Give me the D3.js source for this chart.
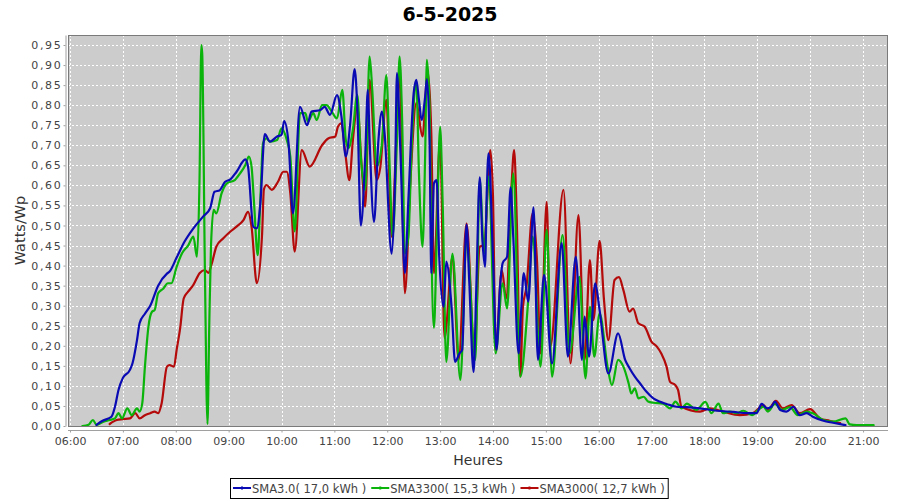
<!DOCTYPE html>
<html><head><meta charset="utf-8">
<script src="https://cdn.jsdelivr.net/npm/d3@7"></script>
<style>body{margin:0;background:#fff} svg{display:block;font-family:"DejaVu Sans",sans-serif}</style>
</head><body><svg id="c" width="900" height="500"></svg>
<script>
const chartTitle = "6-5-2025";
const yLabel = "Watts/Wp";
const xLabel = "Heures";
const seriesNames = ["SMA3.0( 17,0 kWh )", "SMA3300( 15,3 kWh )", "SMA3000( 12,7 kWh )"];
const seriesColors = ["#0a0ab4", "#0ab40a", "#b40a0a"];
const xTickLabels = ["06:00","07:00","08:00","09:00","10:00","11:00","12:00","13:00","14:00","15:00","16:00","17:00","18:00","19:00","20:00","21:00"];
const yTicks = [0,0.05,0.10,0.15,0.20,0.25,0.30,0.35,0.40,0.45,0.50,0.55,0.60,0.65,0.70,0.75,0.80,0.85,0.90,0.95];

const sma30 = [["06:30",0.003],["06:37",0.013],["06:47",0.023],["06:51",0.048],["06:55",0.09],["07:00",0.12],["07:08",0.14],["07:11",0.157],["07:16",0.214],["07:19",0.257],["07:25",0.28],["07:31",0.30],["07:40",0.35],["07:50",0.38],["07:53",0.385],["08:01",0.42],["08:10",0.46],["08:20",0.493],["08:31",0.522],["08:39",0.543],["08:44",0.584],["08:50",0.588],["08:56",0.609],["09:02",0.615],["09:09",0.634],["09:19",0.665],["09:22",0.647],["09:28",0.497],["09:32",0.493],["09:36",0.555],["09:41",0.728],["09:47",0.709],["09:55",0.722],["10:00",0.726],["10:03",0.76],["10:08",0.705],["10:13",0.53],["10:21",0.796],["10:29",0.75],["10:34",0.784],["10:44",0.788],["10:49",0.796],["10:55",0.776],["11:03",0.825],["11:08",0.772],["11:13",0.672],["11:18",0.755],["11:23",0.89],["11:26",0.796],["11:30",0.50],["11:35",0.672],["11:38",0.838],["11:40",0.713],["11:45",0.509],["11:50",0.713],["11:54",0.784],["11:57",0.73],["12:05",0.43],["12:09",0.63],["12:11",0.88],["12:15",0.68],["12:20",0.381],["12:24",0.564],["12:30",0.83],["12:33",0.863],["12:36",0.813],["12:39",0.763],["12:43",0.821],["12:45",0.865],["12:48",0.713],["12:50",0.381],["12:53",0.605],["12:56",0.613],["12:59",0.422],["13:04",0.297],["13:07",0.41],["13:13",0.297],["13:17",0.16],["13:22",0.181],["13:25",0.19],["13:30",0.502],["13:33",0.364],["13:38",0.135],["13:41",0.339],["13:45",0.62],["13:48",0.464],["13:51",0.397],["13:53",0.589],["13:55",0.68],["14:00",0.42],["14:04",0.19],["14:08",0.347],["14:11",0.406],["14:16",0.422],["14:20",0.595],["14:23",0.472],["14:29",0.181],["14:32",0.289],["14:35",0.381],["14:40",0.31],["14:46",0.545],["14:51",0.165],["14:58",0.377],["15:07",0.156],["15:18",0.456],["15:25",0.173],["15:34",0.422],["15:41",0.165],["15:44",0.273],["15:49",0.173],["15:56",0.356],["16:01",0.289],["16:11",0.131],["16:22",0.231],["16:30",0.165],["16:35",0.144],["16:41",0.123],["16:47",0.106],["16:54",0.086],["17:02",0.069],["17:09",0.061],["17:17",0.055],["17:28",0.048],["17:40",0.047],["17:55",0.044],["18:14",0.038],["18:33",0.035],["18:48",0.032],["18:59",0.032],["19:05",0.055],["19:11",0.044],["19:16",0.048],["19:20",0.061],["19:26",0.04],["19:33",0.036],["19:41",0.048],["19:48",0.027],["19:56",0.032],["20:03",0.023],["20:15",0.013],["20:26",0.008],["20:40",0.002]];

const sma3300 = [["06:14",0.0],["06:21",0.003],["06:26",0.015],["06:30",0.003],["06:38",0.011],["06:45",0.015],["06:51",0.019],["06:55",0.032],["06:59",0.019],["07:05",0.044],["07:10",0.027],["07:16",0.044],["07:19",0.036],["07:22",0.057],["07:25",0.148],["07:29",0.248],["07:33",0.285],["07:36",0.289],["07:40",0.331],["07:46",0.343],["07:51",0.356],["07:55",0.356],["08:01",0.397],["08:07",0.43],["08:14",0.45],["08:20",0.472],["08:24",0.422],["08:27",0.62],["08:29",0.95],["08:30",0.93],["08:33",0.40],["08:36",0.005],["08:38",0.25],["08:40",0.45],["08:43",0.539],["08:46",0.53],["08:52",0.58],["08:58",0.605],["09:07",0.613],["09:13",0.63],["09:19",0.651],["09:23",0.672],["09:26",0.647],["09:29",0.55],["09:33",0.426],["09:36",0.564],["09:39",0.705],["09:43",0.717],["09:47",0.709],["09:55",0.713],["10:00",0.742],["10:06",0.713],["10:10",0.672],["10:15",0.485],["10:21",0.78],["10:27",0.78],["10:30",0.759],["10:36",0.78],["10:40",0.763],["10:46",0.80],["10:51",0.80],["10:57",0.784],["11:03",0.767],["11:09",0.838],["11:13",0.713],["11:16",0.693],["11:21",0.739],["11:26",0.826],["11:30",0.672],["11:35",0.589],["11:40",0.921],["11:43",0.838],["11:48",0.647],["11:54",0.705],["11:59",0.875],["12:03",0.63],["12:06",0.472],["12:11",0.713],["12:14",0.921],["12:17",0.755],["12:20",0.43],["12:24",0.472],["12:28",0.713],["12:33",0.855],["12:36",0.63],["12:40",0.447],["12:43",0.672],["12:45",0.913],["12:48",0.796],["12:50",0.464],["12:53",0.245],["12:56",0.45],["13:00",0.746],["13:03",0.547],["13:07",0.16],["13:14",0.43],["13:23",0.115],["13:30",0.464],["13:40",0.165],["13:45",0.613],["13:50",0.43],["13:55",0.622],["14:03",0.181],["14:11",0.356],["14:16",0.293],["14:23",0.63],["14:31",0.123],["14:40",0.314],["14:45",0.472],["14:54",0.148],["15:01",0.489],["15:07",0.123],["15:19",0.476],["15:27",0.181],["15:38",0.372],["15:45",0.119],["15:50",0.297],["15:55",0.173],["16:01",0.281],["16:10",0.148],["16:15",0.102],["16:22",0.165],["16:28",0.148],["16:34",0.106],["16:37",0.081],["16:41",0.094],["16:45",0.069],["16:51",0.073],["16:56",0.061],["17:02",0.058],["17:13",0.056],["17:21",0.044],["17:27",0.061],["17:34",0.044],["17:40",0.056],["17:51",0.04],["18:01",0.06],["18:08",0.032],["18:16",0.056],["18:21",0.032],["18:29",0.036],["18:37",0.032],["18:44",0.038],["18:54",0.027],["19:01",0.04],["19:07",0.048],["19:12",0.036],["19:20",0.055],["19:28",0.04],["19:37",0.047],["19:46",0.027],["19:56",0.036],["20:03",0.032],["20:15",0.015],["20:26",0.011],["20:40",0.019],["20:45",0.004],["20:53",0.002],["21:12",0.002]];

const sma3000 = [["06:45",0.005],["06:53",0.015],["07:00",0.017],["07:08",0.019],["07:14",0.032],["07:19",0.019],["07:25",0.027],["07:31",0.032],["07:36",0.036],["07:40",0.032],["07:44",0.057],["07:50",0.148],["07:53",0.152],["07:58",0.148],["08:01",0.19],["08:05",0.244],["08:09",0.318],["08:14",0.335],["08:20",0.352],["08:27",0.381],["08:33",0.389],["08:37",0.382],["08:41",0.406],["08:46",0.447],["08:54",0.468],["09:02",0.485],["09:09",0.497],["09:17",0.514],["09:22",0.534],["09:26",0.497],["09:32",0.356],["09:38",0.48],["09:40",0.59],["09:43",0.601],["09:49",0.589],["09:56",0.609],["10:02",0.634],["10:06",0.634],["10:10",0.58],["10:15",0.435],["10:23",0.688],["10:32",0.647],["10:46",0.70],["10:53",0.717],["11:01",0.722],["11:04",0.746],["11:08",0.755],["11:12",0.688],["11:17",0.613],["11:21",0.713],["11:26",0.796],["11:31",0.647],["11:35",0.547],["11:40",0.863],["11:48",0.613],["11:52",0.643],["11:59",0.813],["12:05",0.472],["12:10",0.70],["12:14",0.888],["12:20",0.331],["12:26",0.6],["12:33",0.805],["12:40",0.722],["12:46",0.884],["12:50",0.73],["12:53",0.381],["13:00",0.713],["13:05",0.219],["13:14",0.422],["13:21",0.165],["13:30",0.505],["13:39",0.185],["13:45",0.447],["13:50",0.451],["13:57",0.688],["14:00",0.572],["14:03",0.19],["14:10",0.389],["14:15",0.318],["14:21",0.597],["14:24",0.688],["14:27",0.514],["14:31",0.123],["14:34",0.297],["14:38",0.347],["14:45",0.53],["14:50",0.41],["14:54",0.181],["15:01",0.559],["15:05",0.198],["15:20",0.589],["15:28",0.156],["15:37",0.526],["15:44",0.165],["15:50",0.414],["15:54",0.264],["16:01",0.462],["16:06",0.314],["16:11",0.214],["16:18",0.364],["16:23",0.371],["16:28",0.339],["16:35",0.285],["16:39",0.293],["16:45",0.256],["16:52",0.248],["17:00",0.21],["17:06",0.198],["17:11",0.181],["17:17",0.148],["17:21",0.11],["17:27",0.102],["17:30",0.09],["17:34",0.048],["17:55",0.036],["18:06",0.044],["18:21",0.036],["18:40",0.027],["18:55",0.032],["19:07",0.052],["19:12",0.04],["19:21",0.063],["19:29",0.044],["19:39",0.052],["19:48",0.032],["20:00",0.042],["20:11",0.019],["20:22",0.013],["20:34",0.007]];

const allSeries = [sma30, sma3300, sma3000];

const toMin = s => { const [h, m] = s.split(":").map(Number); return h * 60 + m; };

const plot = {left: 68, right: 888, top: 35, bottom: 426};
const svg = d3.select("#c");

const x = d3.scaleLinear().domain([357.7, 1288.3]).range([plot.left, plot.right]);
const y = d3.scaleLinear().domain([0, 0.975]).range([plot.bottom, plot.top]);
const xTickVals = xTickLabels.map(toMin);
const fmtY = v => d3.format(".2f")(v).replace(".", ",");

svg.append("rect").attr("x", plot.left).attr("y", plot.top)
  .attr("width", plot.right - plot.left).attr("height", plot.bottom - plot.top)
  .attr("fill", "#cccccc");

const grid = svg.append("g").attr("stroke", "#ffffff").attr("stroke-width", 1).attr("stroke-dasharray", "2,2");
grid.selectAll("line.v").data(xTickVals).join("line").attr("class", "v")
  .attr("x1", d => Math.round(x(d)) + 0.5).attr("x2", d => Math.round(x(d)) + 0.5)
  .attr("y1", plot.top).attr("y2", plot.bottom);
grid.selectAll("line.h").data(yTicks).join("line").attr("class", "h")
  .attr("y1", d => Math.round(y(d)) + 0.5).attr("y2", d => Math.round(y(d)) + 0.5)
  .attr("x1", plot.left).attr("x2", plot.right);

svg.append("clipPath").attr("id", "clip").append("rect")
  .attr("x", plot.left).attr("y", plot.top - 2)
  .attr("width", plot.right - plot.left).attr("height", plot.bottom - plot.top + 2);

const line = d3.line().x(d => x(toMin(d[0]))).y(d => y(d[1])).curve(d3.curveMonotoneX);
const lines = svg.append("g").attr("clip-path", "url(#clip)");
[2, 1, 0].forEach(i => {
  lines.append("path").datum(allSeries[i]).attr("d", line)
    .attr("fill", "none").attr("stroke", seriesColors[i]).attr("stroke-width", 2.2)
    .attr("stroke-linejoin", "round").attr("stroke-linecap", "round");
});

svg.append("rect").attr("x", plot.left + 0.5).attr("y", plot.top + 0.5)
  .attr("width", plot.right - plot.left - 1).attr("height", plot.bottom - plot.top)
  .attr("fill", "none").attr("stroke", "#7a7a7a").attr("stroke-width", 1);

const yAxis = d3.axisLeft(y).tickValues(yTicks).tickFormat(fmtY).tickSize(2).tickSizeOuter(0).tickPadding(1);
const gy = svg.append("g").attr("transform", "translate(65.5,0)").call(yAxis);
const xAxis = d3.axisBottom(x).tickValues(xTickVals).tickFormat((d, i) => xTickLabels[i]).tickSize(2).tickSizeOuter(0).tickPadding(5);
const gx = svg.append("g").attr("transform", "translate(0,430.5)").call(xAxis);
[gy, gx].forEach(g => {
  g.select(".domain").attr("stroke", "#a0a0a0");
  g.selectAll(".tick line").attr("stroke", "#a0a0a0");
  g.selectAll(".tick text").attr("fill", "#444").style("font-size", "11px").style("font-family", "DejaVu Sans");
});
gy.selectAll(".tick text").style("letter-spacing", "1.7px");
gx.select(".domain").attr("d", `M${plot.left},0H${plot.right}`);

svg.append("text").attr("x", 450).attr("y", 21).attr("text-anchor", "middle")
  .style("font-size", "19px").style("font-weight", "bold").attr("fill", "#000").text(chartTitle);
svg.append("text").attr("transform", `translate(25,${(plot.top + plot.bottom) / 2}) rotate(-90)`)
  .attr("text-anchor", "middle").style("font-size", "14.5px").attr("fill", "#333").text(yLabel);
svg.append("text").attr("x", (plot.left + plot.right) / 2).attr("y", 465).attr("text-anchor", "middle")
  .style("font-size", "14px").attr("fill", "#333").text(xLabel);

const lg = svg.append("g");
const box = lg.append("rect").attr("fill", "#fff").attr("stroke", "#000").attr("stroke-width", 1);
let cx = 0;
seriesNames.forEach((name, i) => {
  const g = lg.append("g").attr("transform", `translate(${cx},0)`);
  g.append("line").attr("x1", 0).attr("x2", 18).attr("y1", 0).attr("y2", 0)
    .attr("stroke", seriesColors[i]).attr("stroke-width", 2);
  g.append("rect").attr("x", 8).attr("y", -1.5).attr("width", 2).attr("height", 3).attr("fill", seriesColors[i]);
  const t = g.append("text").attr("x", 19).attr("y", 4.5).style("font-size", "11.5px").attr("fill", "#444").text(name);
  const w = t.node().getComputedTextLength();
  cx += 19 + w + 5;
});
const totalW = cx - 5;
const lx = Math.round(449 - totalW / 2);
lg.attr("transform", `translate(${lx},488)`);
box.attr("x", -2.5).attr("y", -9.5).attr("width", totalW + 6).attr("height", 20);
</script></body></html>
